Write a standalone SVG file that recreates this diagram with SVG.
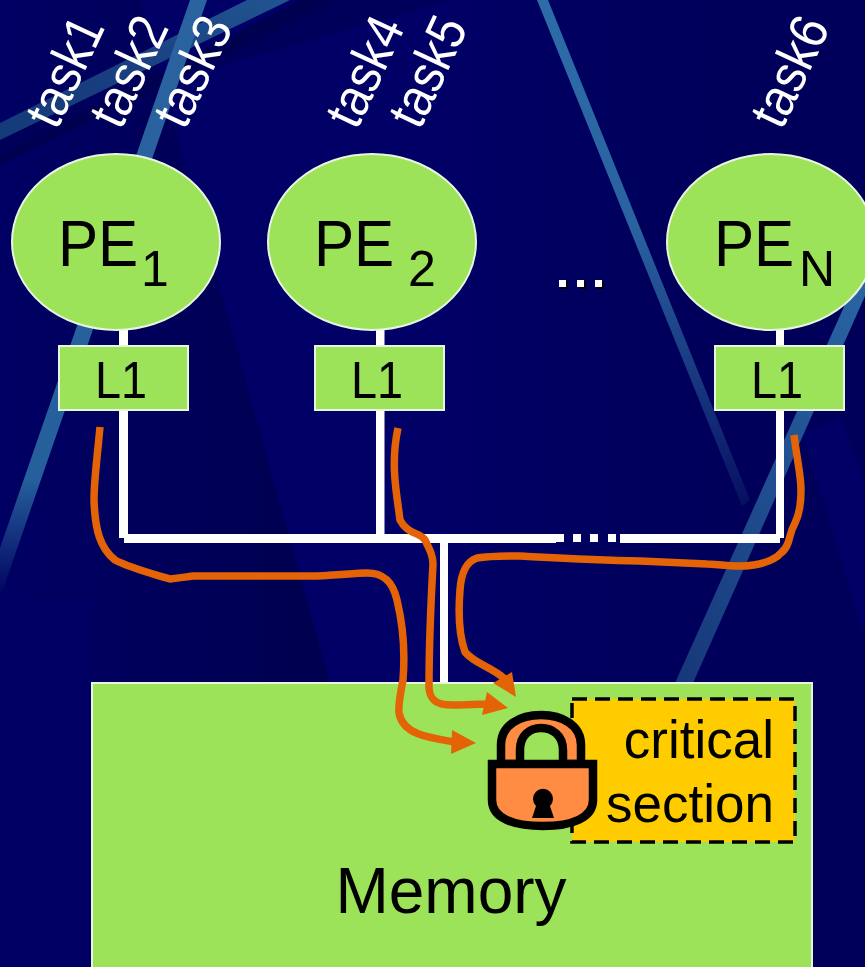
<svg xmlns="http://www.w3.org/2000/svg" width="865" height="967" viewBox="0 0 865 967">
<style>
text{font-family:"Liberation Sans",Arial,sans-serif;fill:#000}
.task{font-size:54px;fill:#fff}
.pe{font-size:64px}
.sub{font-size:50px}
.l1{font-size:52px;text-anchor:middle}
.node{fill:#9de35a;stroke:#e8f4e0;stroke-width:2}
.bus{fill:#fff}
.flow{stroke:#e46306;stroke-width:7.500;fill:none;stroke-linejoin:round;stroke-linecap:butt}
.head{fill:#e46306}
.lk{stroke:#000;stroke-width:8.500}
</style>
<defs>
<linearGradient id="fadeC" x1="0" y1="0" x2="0" y2="1"><stop offset="0" stop-color="#2d6ca8"/><stop offset="0.45" stop-color="#2a62a0"/><stop offset="0.8" stop-color="#14307a"/><stop offset="1" stop-color="#060f60"/></linearGradient>
<linearGradient id="fadeA" x1="0" y1="1" x2="1" y2="0"><stop offset="0" stop-color="#143a7a"/><stop offset="0.5" stop-color="#1a3f80"/><stop offset="1" stop-color="#205590"/></linearGradient>
<linearGradient id="fadeB" x1="0" y1="0" x2="0" y2="1"><stop offset="0" stop-color="#2a639f"/><stop offset="0.8" stop-color="#26609c"/><stop offset="1" stop-color="#00005f"/></linearGradient>
<linearGradient id="fadeD" x1="1" y1="0" x2="0" y2="1"><stop offset="0" stop-color="#2a66a4"/><stop offset="1" stop-color="#16377a"/></linearGradient>
<linearGradient id="wedge" x1="0" y1="0" x2="1" y2="0"><stop offset="0" stop-color="#000064"/><stop offset="1" stop-color="#00004f"/></linearGradient>
<linearGradient id="rightDark" x1="0" y1="0" x2="1" y2="0"><stop offset="0" stop-color="#000066"/><stop offset="0.5" stop-color="#00005c"/><stop offset="1" stop-color="#00005a"/></linearGradient>
</defs>
<g id="background">
<rect width="865" height="967" fill="#000066"/>
<polygon points="0,0 140,0 180,145 330,683 0,683" fill="url(#wedge)"/>
<rect x="0" y="600" width="92" height="367" fill="#000064"/>
<rect x="440" y="0" width="425" height="967" fill="url(#rightDark)"/>
<polygon points="803,432 840,418 865,483 865,639" fill="#000066"/>
<polygon points="450,0 300,0 0,165 0,130" fill="#00005a"/>
<polygon points="300,0 340,0 0,165 0,155" fill="#000050"/>
<polygon points="247,0 290,0 0,140 0,123" fill="url(#fadeA)"/>
<polygon points="190,0 207,0 0,598 0,548" fill="url(#fadeB)"/>
<polygon points="537,0 548,0 750,500 742,506" fill="url(#fadeC)"/>
<polygon points="865,260 865,296 693,683 675,683" fill="url(#fadeD)"/>
</g>
<g id="connectors">
<rect class="bus" x="119" y="330" width="9" height="208"/>
<rect class="bus" x="376" y="330" width="8.500" height="208"/>
<rect class="bus" x="776" y="330" width="8" height="208"/>
<rect class="bus" x="124" y="534" width="432" height="9"/>
<rect class="bus" x="620" y="534" width="160" height="9"/>
<rect class="bus" x="440" y="542" width="8" height="141"/>
<rect class="bus" x="556" y="534" width="8" height="8"/><rect class="bus" x="573" y="534" width="8" height="8"/><rect class="bus" x="590" y="534" width="8" height="8"/><rect class="bus" x="608" y="534" width="8" height="8"/>
</g>
<g id="memory"><rect class="node" x="92" y="683" width="720" height="290"/>
<text x="451" y="913" font-size="64" text-anchor="middle">Memory</text></g>
<g id="critical-section"><rect x="572" y="699" width="223" height="143" fill="#ffcc00" stroke="#000" stroke-width="3.500" stroke-dasharray="15 8"/>
<text x="774" y="758" font-size="53" text-anchor="end">critical</text>
<text x="774" y="822" font-size="53" text-anchor="end">section</text></g>
<g id="flows">
<path class="flow" d="M100,427C97,460 94,480 94,500C95,530 100,548 115,560C130,568 150,573 170,579C180,578 185,577 193,576L317,576C340,575 355,573 367,573C380,573 392,578 397,600C403,625 405,655 403,680C400,695 398,705 399,713C403,735 430,738 455,742"/>
<polygon class="head" points="452,730 476,743 451,754"/>
<path class="flow" d="M398,428C390,465 397,495 400,520C408,535 420,532 425,540C430,550 433,556 433,564C431,600 429,650 429,688C431,708 445,706 485,704"/>
<polygon class="head" points="487,692 508,708 482,715"/>
<path class="flow" d="M794,435C797,460 801,475 801,490C801,505 799,515 795,523C790,532 790,538 788,543C785,552 780,553 778,556C765,565 750,566 740,566C725,566 715,564 707,564L640,561C590,560 540,557 520,556C505,556 490,556 477,558C465,562 461,575 460,590C458,615 459,635 465,652C475,664 490,666 505,679"/>
<polygon class="head" points="512,672 516,697 493,683"/>
</g>
<g id="lock">
<path d="M501,764V745C501,725 520,715 541,715C562,715 581,725 581,745V764Z" fill="#ff8c42" class="lk"/>
<path d="M520,764V750C520,735 530,728 541,728C552,728 563,735 563,750V764" fill="#9de35a" class="lk"/>
<path d="M492,764H593V800C593,818 572,826 543,826C513,826 492,818 492,800Z" fill="#ff8c42" class="lk"/>
<path d="M532,818L536,806A10,10 0 1 1 550,806L554,818Z" fill="#000"/>
</g>
<g id="pe1"><ellipse class="node" cx="116" cy="242" rx="104" ry="88"/>
<text class="pe" transform="translate(58,266) scale(0.94,1)">PE</text><text class="sub" x="141" y="286">1</text></g>
<g id="pe2"><ellipse class="node" cx="372" cy="242" rx="104" ry="88"/>
<text class="pe" transform="translate(314,266) scale(0.94,1)">PE</text><text class="sub" x="408" y="286">2</text></g>
<g id="pen"><ellipse class="node" cx="771" cy="242" rx="104" ry="88"/>
<text class="pe" transform="translate(714,266) scale(0.94,1)">PE</text><text class="sub" x="799" y="286">N</text></g>
<g id="l1-1"><rect class="node" x="59" y="346" width="129" height="64"/><text class="l1" transform="translate(121,398) scale(0.9,1)">L1</text></g>
<g id="l1-2"><rect class="node" x="315" y="346" width="129" height="64"/><text class="l1" transform="translate(377,398) scale(0.9,1)">L1</text></g>
<g id="l1-n"><rect class="node" x="715" y="346" width="129" height="64"/><text class="l1" transform="translate(777,398) scale(0.9,1)">L1</text></g>
<g id="tasks">
<text class="task" transform="translate(57,131) rotate(-65) scale(0.89,1)">task1</text>
<text class="task" transform="translate(121,131) rotate(-65) scale(0.89,1)">task2</text>
<text class="task" transform="translate(185,131) rotate(-65) scale(0.89,1)">task3</text>
<text class="task" transform="translate(357,131) rotate(-65) scale(0.89,1)">task4</text>
<text class="task" transform="translate(420,131) rotate(-65) scale(0.89,1)">task5</text>
<text class="task" transform="translate(782,131) rotate(-65) scale(0.89,1)">task6</text>
</g>
<g id="ellipsis">
<g fill="#000"><rect x="561" y="282" width="7" height="7"/><rect x="579" y="282" width="7" height="7"/><rect x="597" y="282" width="7" height="7"/></g>
<g fill="#fff"><rect x="559" y="280" width="7" height="7"/><rect x="577" y="280" width="7" height="7"/><rect x="595" y="280" width="7" height="7"/></g>
</g>
</svg>
